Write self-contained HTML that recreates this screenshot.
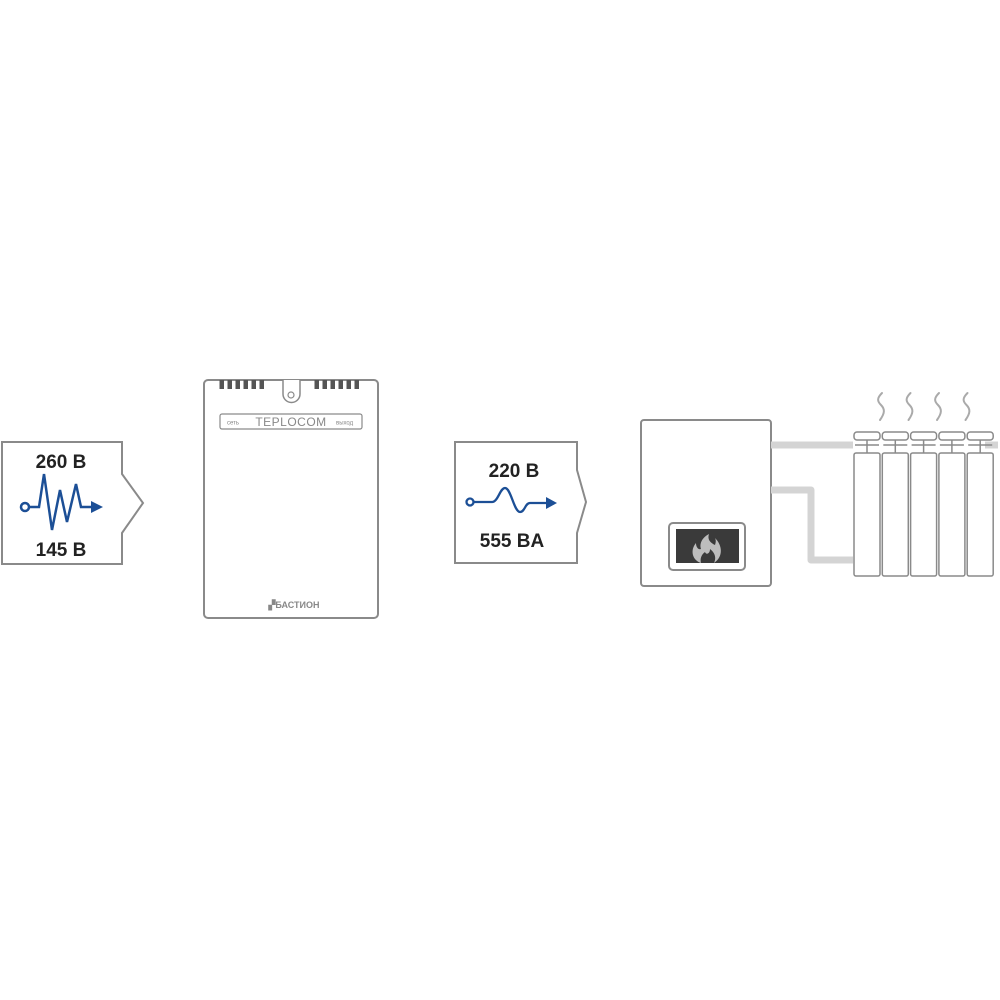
<!DOCTYPE html>
<html><head><meta charset="utf-8"><style>html,body{margin:0;padding:0;background:#fff}svg{display:block}</style></head>
<body>
<svg width="1000" height="1000" viewBox="0 0 1000 1000" xmlns="http://www.w3.org/2000/svg" font-family="'Liberation Sans', sans-serif">
<!-- Box 1 -->
<path d="M2,442 H122 V474 L143,503 L122,533 V564 H2 Z" fill="#fff" stroke="#8a8a8a" stroke-width="2"/>
<text x="61" y="468" font-size="19" font-weight="bold" text-anchor="middle" fill="#222">260 B</text>
<text x="61" y="556" font-size="19" font-weight="bold" text-anchor="middle" fill="#222">145 B</text>
<circle cx="25" cy="507" r="4" fill="none" stroke="#1c4f96" stroke-width="2.5"/>
<polyline points="29,507 39,507 44,474 52,530 60,490 67,522 76,484 81,507 93,507" fill="none" stroke="#1c4f96" stroke-width="2.5" stroke-linejoin="miter"/>
<path d="M91,501 L103,507 L91,513 Z" fill="#1c4f96"/>
<!-- Device -->
<rect x="204" y="380" width="174" height="238" rx="4" fill="#fff" stroke="#8a8a8a" stroke-width="2"/>
<g fill="#555">
<rect x="219.5" y="380" width="4.5" height="9"/><rect x="227.5" y="380" width="4.5" height="9"/><rect x="235.5" y="380" width="4.5" height="9"/><rect x="243.5" y="380" width="4.5" height="9"/><rect x="251.5" y="380" width="4.5" height="9"/><rect x="259.5" y="380" width="4.5" height="9"/>
<rect x="314.5" y="380" width="4.5" height="9"/><rect x="322.5" y="380" width="4.5" height="9"/><rect x="330.5" y="380" width="4.5" height="9"/><rect x="338.5" y="380" width="4.5" height="9"/><rect x="346.5" y="380" width="4.5" height="9"/><rect x="354.5" y="380" width="4.5" height="9"/>
</g>
<path d="M283,380 V394 A8.5,8.5 0 0 0 300,394 V380" fill="#fff" stroke="#8a8a8a" stroke-width="1.5"/>
<circle cx="291" cy="395" r="3" fill="none" stroke="#8a8a8a" stroke-width="1.2"/>
<rect x="220" y="414" width="142" height="15" rx="2" fill="#fff" stroke="#8a8a8a" stroke-width="1.2"/>
<text x="227" y="424.5" font-size="6" fill="#888">сеть</text>
<text x="291" y="426" font-size="12" text-anchor="middle" fill="#888" letter-spacing="0.5">TEPLOCOM</text>
<text x="336" y="424.5" font-size="6" fill="#888">выход</text>
<text x="294" y="608" font-size="9" font-weight="bold" text-anchor="middle" fill="#888">▞БАСТИОН</text>
<!-- Box 2 -->
<path d="M455,442 H577 V470 L586,502 L577,533 V563 H455 Z" fill="#fff" stroke="#8a8a8a" stroke-width="2"/>
<text x="514" y="477" font-size="19" font-weight="bold" text-anchor="middle" fill="#222">220 B</text>
<text x="512" y="547" font-size="19" font-weight="bold" text-anchor="middle" fill="#222">555 BA</text>
<circle cx="470" cy="502" r="3.5" fill="none" stroke="#1c4f96" stroke-width="2.3"/>
<path d="M474,502 H492 C498,502 500,488 505,488 C511,488 514,512 520,512 C525,512 525,503 530,503 H548" fill="none" stroke="#1c4f96" stroke-width="2.3"/>
<path d="M546,497 L557,503 L546,509 Z" fill="#1c4f96"/>
<!-- Boiler -->
<rect x="641" y="420" width="130" height="166" rx="3" fill="#fff" stroke="#8a8a8a" stroke-width="2"/>
<rect x="669" y="523" width="76" height="47" rx="4" fill="#fff" stroke="#8a8a8a" stroke-width="2"/>
<rect x="676" y="529" width="63" height="34" fill="#3a3a3a"/>
<path d="M701,563 C692,560 690,550 696,543 C696,548 699,550 701,549 C699,543 703,537 709,534 C707,540 711,543 715,545 C716,542 716,540 715,538 C722,545 724,556 714,563 C717,557 714,552 710,549 C710,554 706,555 705,552 C701,555 700,559 701,563 Z" fill="#bdbdbd"/>
<!-- Pipes -->
<path d="M771,445 H853" stroke="#d4d4d4" stroke-width="7" fill="none"/>
<path d="M771,490 H811 V560 H853" stroke="#d4d4d4" stroke-width="7" fill="none" stroke-linejoin="round"/>
<path d="M985,445 H998" stroke="#d4d4d4" stroke-width="7"/>
<!-- Radiator -->
<g fill="#fff" stroke="#8a8a8a" stroke-width="1.5">
<g id="s1">
<rect x="854" y="453" width="26" height="123" rx="2"/>
<rect x="854" y="432" width="26" height="8" rx="3"/>
<line x1="867" y1="440" x2="867" y2="453"/>
<line x1="855" y1="445" x2="879" y2="445"/>
</g>
<use href="#s1" x="28.3"/><use href="#s1" x="56.6"/><use href="#s1" x="84.9"/><use href="#s1" x="113.2"/>
</g>
<!-- Steam -->
<g fill="none" stroke="#aaa" stroke-width="2" stroke-linecap="round">
<path id="st" d="M882,393 C877,398 877,401 881,405 C885,409 885,413 880,420"/>
<use href="#st" x="28.5"/><use href="#st" x="57"/><use href="#st" x="85.5"/>
</g>
</svg>
</body></html>
